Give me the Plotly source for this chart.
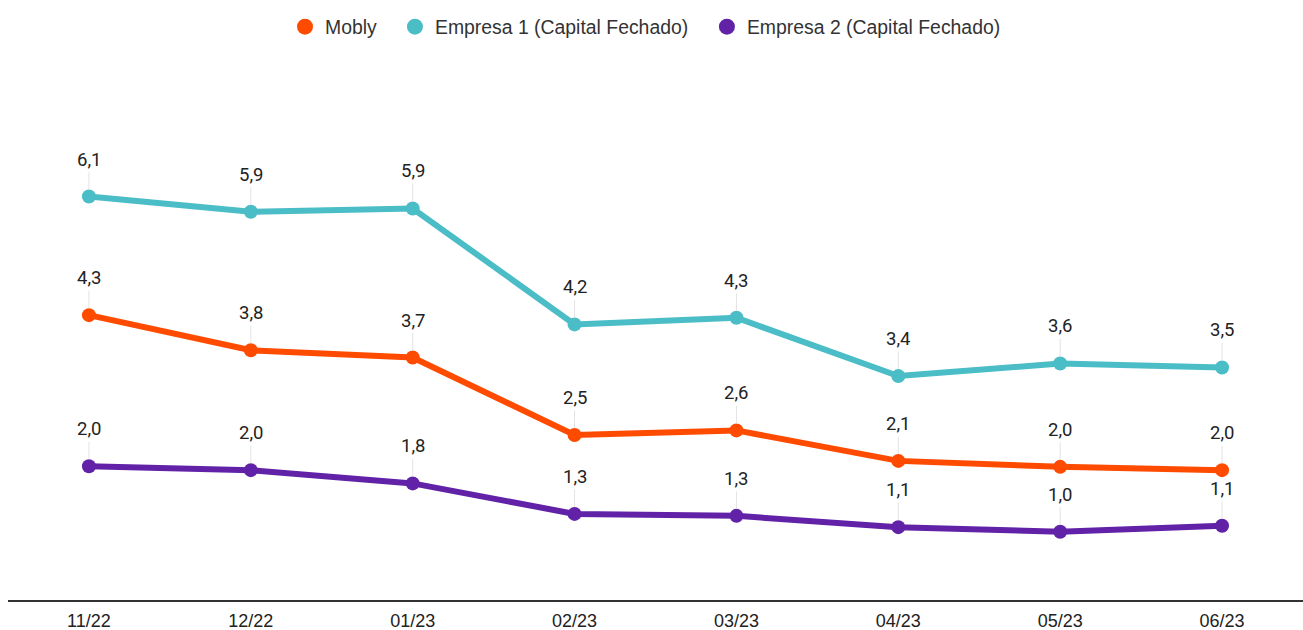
import plotly.graph_objects as go

months = ["11/22", "12/22", "01/23", "02/23", "03/23", "04/23", "05/23", "06/23"]
mobly = [4.30, 3.77, 3.66, 2.49, 2.56, 2.10, 2.01, 1.96]
empresa1 = [6.09, 5.86, 5.91, 4.16, 4.26, 3.38, 3.57, 3.51]
empresa2 = [2.02, 1.96, 1.76, 1.30, 1.27, 1.10, 1.03, 1.12]

series_names = ["Mobly", "Empresa 1 (Capital Fechado)", "Empresa 2 (Capital Fechado)"]
series_values = [mobly, empresa1, empresa2]
colors = ["#FF4B00", "#4ABDC7", "#6122A8"]
legend_ids = ["legend", "legend2", "legend3"]
legend_x = [0.2139, 0.2988, 0.5397]

fig = go.Figure()
annotations = []
for name, vals, col in zip(series_names, series_values, colors):
    fig.add_trace(go.Scatter(
        x=months, y=vals, mode="lines+markers", name=name,
        line=dict(color=col, width=6), marker=dict(color=col, size=14),
        showlegend=False, hoverinfo="skip"))
    for m, v in zip(months, vals):
        annotations.append(dict(
            x=m, y=v, xref="x", yref="y", text=f"{v:.1f}".replace(".", ","),
            showarrow=True, arrowhead=0, arrowwidth=1, arrowcolor="#e3e3e3",
            ax=0, ay=-37, standoff=7, font=dict(family="Roboto", size=18.5, color="#222222")))

for name, col, lid in zip(series_names, colors, legend_ids):
    fig.add_trace(go.Scatter(x=[None], y=[None], mode="markers", name=name,
                             marker=dict(color=col, size=18), legend=lid))

legend_style = dict(orientation="h", xanchor="left", y=1.081, yanchor="middle",
                    font=dict(family="Liberation Sans", size=19.4, color="#333333"),
                    itemwidth=30, bgcolor="rgba(0,0,0,0)")

fig.update_layout(
    width=1303, height=630,
    margin=dict(l=8, r=0, t=70, b=30),
    plot_bgcolor="white", paper_bgcolor="white",
    annotations=annotations,
    showlegend=True,
    legend=dict(x=legend_x[0], **legend_style),
    legend2=dict(x=legend_x[1], **legend_style),
    legend3=dict(x=legend_x[2], **legend_style),
    xaxis=dict(type="category", range=[-0.5, 7.5], showgrid=False, zeroline=False,
               showline=True, linecolor="#333333", linewidth=1.5, ticks="",
               ticklabelstandoff=4,
               tickfont=dict(family="Liberation Sans", size=18, color="#222222")),
    yaxis=dict(range=[0, 8], visible=False, showgrid=False, zeroline=False),
)

fig.write_html("out.html", config={"displayModeBar": False},
               post_script="document.body.style.margin='0';")
